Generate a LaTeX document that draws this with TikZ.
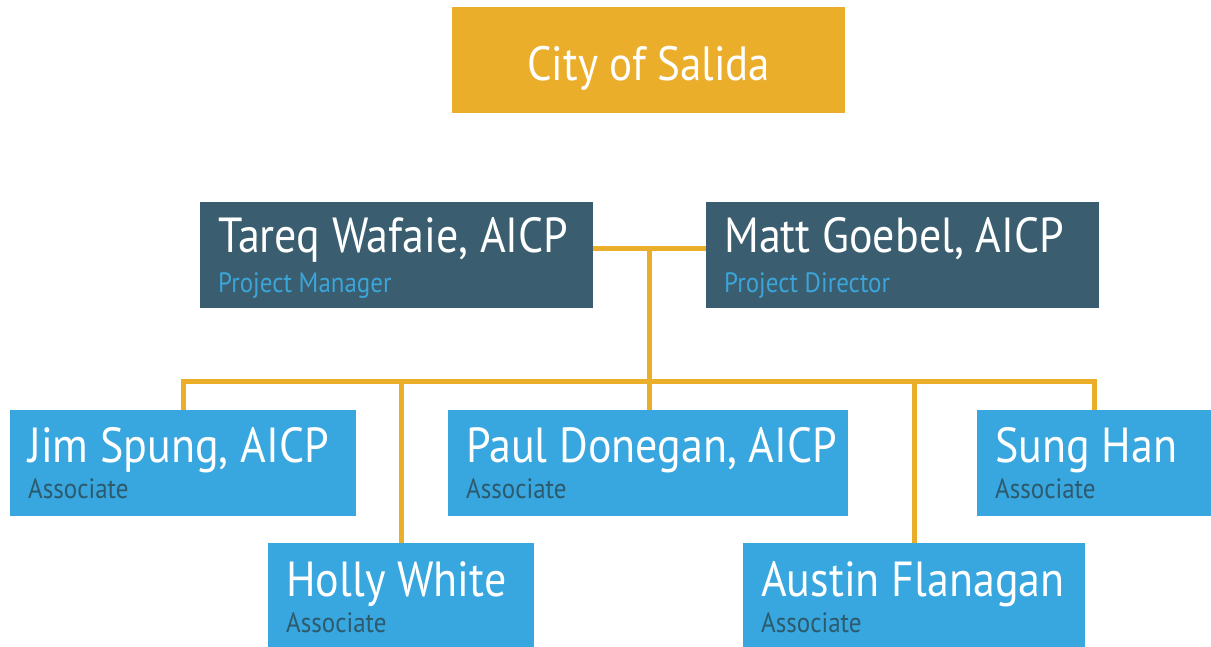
\documentclass[tikz,border=0pt]{standalone}
\usepackage{fontspec}
\usepackage{graphicx}
\setmainfont{PT Sans}
\definecolor{salgold}{HTML}{EBAE2B}
\definecolor{leadteal}{HTML}{3A5E6F}
\definecolor{staffblue}{HTML}{38A7DF}
\definecolor{rolelight}{HTML}{3BA4D8}
\definecolor{roledark}{HTML}{2D5A6D}

\tikzset{
  box/.style={anchor=north west, inner sep=0pt, minimum height=106pt},
  goldbox/.style={box, fill=salgold},
  leadbox/.style={box, fill=leadteal},
  staffbox/.style={box, fill=staffblue},
  title/.style={anchor=base, inner sep=0pt, text=white, font=\fontsize{43}{43}\selectfont},
  fullname/.style={anchor=base west, inner sep=0pt, text=white, font=\fontsize{44}{44}\selectfont},
  role/.style={anchor=base west, inner sep=0pt, font=\fontsize{25}{25}\selectfont},
  link/.style={salgold, line width=5pt}
}

\begin{document}
\begin{tikzpicture}[x=1pt, y=-1pt]
	\useasboundingbox[fill=white] (0,0) rectangle (1211,646);
	% oben, stadt
	\node[goldbox, minimum width=393pt] (city) at (452,7) {};
	\node[title] (citytext) at ([yshift=-73pt]city.north) {\scalebox{1}[1.12]{City of Salida}};
	% leitung
	\node[leadbox, minimum width=393pt] (tareq) at (200,202) {};
	\node[fullname] (tareqname) at ([xshift=18pt,yshift=-50pt]tareq.north west) {\scalebox{1}[1.12]{Tareq Wafaie, AICP}};
	\node[role, text=rolelight] (tareqrole) at ([xshift=18pt,yshift=-90pt]tareq.north west) {\scalebox{1}[1.12]{Project Manager}};
	\node[leadbox, minimum width=393pt] (matt) at (706,202) {};
	\node[fullname] (mattname) at ([xshift=18pt,yshift=-50pt]matt.north west) {\scalebox{1}[1.12]{Matt Goebel, AICP}};
	\node[role, text=rolelight] (mattrole) at ([xshift=18pt,yshift=-90pt]matt.north west) {\scalebox{1}[1.12]{Project Director}};
	% mitarbeiter, obere reihe
	\node[staffbox, minimum width=346pt] (jim) at (10,410) {};
	\node[fullname] (jimname) at ([xshift=18pt,yshift=-52pt]jim.north west) {\scalebox{1}[1.12]{Jim Spung, AICP}};
	\node[role, text=roledark] (jimrole) at ([xshift=18pt,yshift=-88pt]jim.north west) {\scalebox{1}[1.12]{Associate}};
	\node[staffbox, minimum width=400pt] (paul) at (448,410) {};
	\node[fullname] (paulname) at ([xshift=18pt,yshift=-52pt]paul.north west) {\scalebox{1}[1.12]{Paul Donegan, AICP}};
	\node[role, text=roledark] (paulrole) at ([xshift=18pt,yshift=-88pt]paul.north west) {\scalebox{1}[1.12]{Associate}};
	\node[staffbox, minimum width=234pt] (sung) at (977,410) {};
	\node[fullname] (sungname) at ([xshift=18pt,yshift=-52pt]sung.north west) {\scalebox{1}[1.12]{Sung Han}};
	\node[role, text=roledark] (sungrole) at ([xshift=18pt,yshift=-88pt]sung.north west) {\scalebox{1}[1.12]{Associate}};
	% mitarbeiter, untere reihe
	\node[staffbox, minimum width=266pt] (holly) at (268,543) {};
	\node[fullname] (hollyname) at ([xshift=18pt,yshift=-53pt]holly.north west) {\scalebox{1}[1.12]{Holly White}};
	\node[role, text=roledark] (hollyrole) at ([xshift=18pt,yshift=-89pt]holly.north west) {\scalebox{1}[1.12]{Associate}};
	\node[staffbox, minimum width=342pt] (austin) at (743,543) {};
	\node[fullname] (austinname) at ([xshift=18pt,yshift=-53pt]austin.north west) {\scalebox{1}[1.12]{Austin Flanagan}};
	\node[role, text=roledark] (austinrole) at ([xshift=18pt,yshift=-89pt]austin.north west) {\scalebox{1}[1.12]{Associate}};
	% verbindungen
	\coordinate (lead) at (649,248);
	\coordinate (bus) at (649,381);
	\draw[link] ([yshift=6.5pt]tareq.east) -- ([yshift=6.5pt]matt.west);
	\draw[link] (lead) -- (lead |- paul.north);
	\draw[link] (jim.north) |- (bus -| sung.north) -- (sung.north);
	\draw[link] (holly.north) -- (holly.north |- bus);
	\draw[link] (austin.north) -- (austin.north |- bus);
\end{tikzpicture}
\end{document}
